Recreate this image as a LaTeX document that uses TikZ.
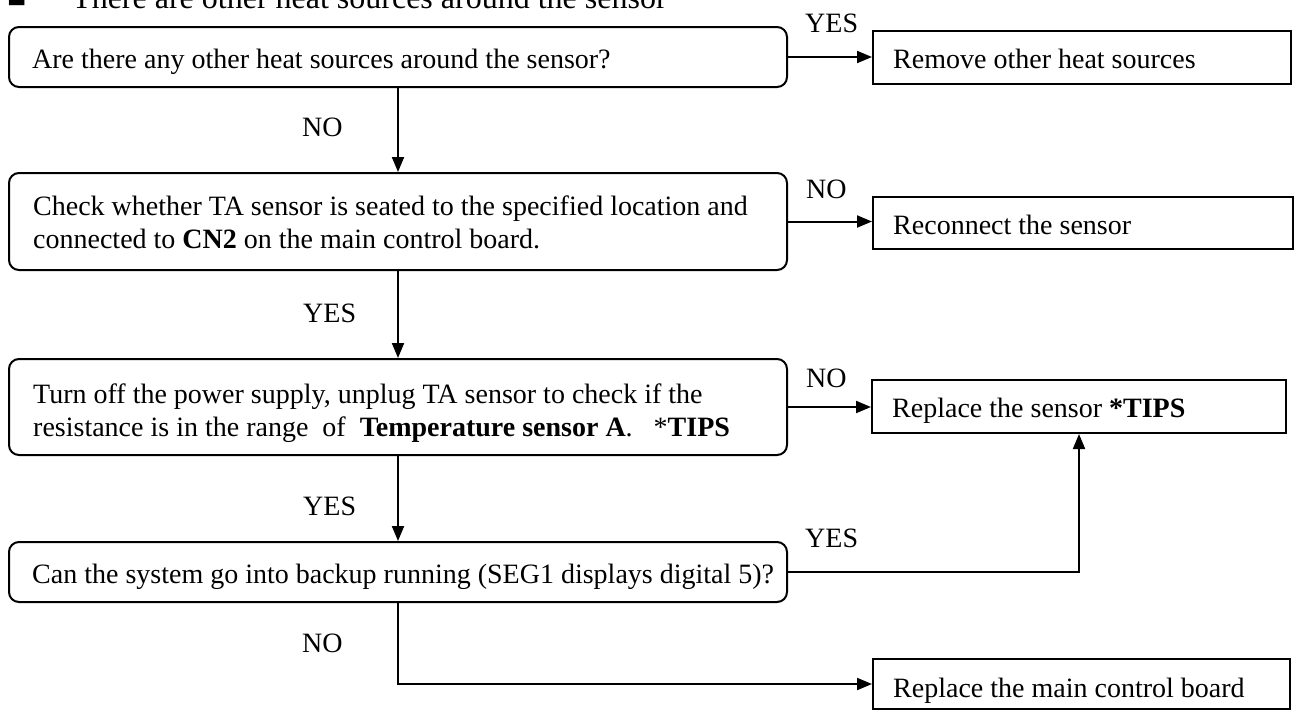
\documentclass[tikz,border=0pt]{standalone}
\usepackage{fontspec}
\setmainfont{Liberation Serif}
\usetikzlibrary{arrows.meta}
\begin{document}
\begin{tikzpicture}[x=1pt,y=-1pt,
  decision/.style={draw, line width=2pt, rounded corners=10pt, minimum width=778pt, inner sep=0pt},
  action/.style={draw, line width=2pt, minimum width=418pt, inner sep=0pt},
  txt/.style={anchor=base west, inner sep=0pt, font=\fontsize{28}{33}\selectfont, align=left},
  lbl/.style={anchor=base west, inner sep=0pt, font=\fontsize{28}{33}\selectfont},
  head/.style={anchor=base west, inner sep=0pt, font=\fontsize{32}{38}\selectfont},
  conn/.style={line width=2pt, -{Triangle[length=15pt,width=12pt]}}
]
\useasboundingbox (0,0) rectangle (1300,710);
\clip (0,0) rectangle (1300,710);

% heading (cut off at top)
\node[head] (bul) at (7,7) {■};
\node[head] (hd) at (72,8) {There are other heat sources around the sensor};

% decision boxes
\node[decision, minimum height=60pt] (q1) at (398,57) {};
\node[decision, minimum height=97pt] (q2) at (398,221.5) {};
\node[decision, minimum height=96pt] (q3) at (398,407) {};
\node[decision, minimum height=60pt] (q4) at (398,572) {};

% action boxes
\node[action, minimum height=53pt] (a1) at (1082,57.5) {};
\node[action, minimum height=52pt, minimum width=420pt] (a2) at (1083,223) {};
\node[action, minimum height=53pt, minimum width=414pt] (a3) at (1079,406.5) {};
\node[action, minimum height=50pt, minimum width=417pt] (a4) at (1081.5,684) {};

% texts (base anchor = baseline of last line)
\node[txt] (t1) at (32,68) {Are there any other heat sources around the sensor?};
\node[txt] (t2) at (33,248) {Check whether TA sensor is seated to the specified location and\\connected to \textbf{CN2} on the main control board.};
\node[txt] (t3) at (33,436) {Turn off the power supply, unplug TA sensor to check if the\\resistance is in the range~~of~~\textbf{Temperature sensor A}.~~~*\textbf{TIPS}};
\node[txt] (t4) at (32,583) {Can the system go into backup running (SEG1 displays digital 5)?};
\node[txt] (u1) at (893,68) {Remove other heat sources};
\node[txt] (u2) at (893,234) {Reconnect the sensor};
\node[txt] (u3) at (892,417) {Replace the sensor \textbf{*TIPS}};
\node[txt] (u4) at (893,697) {Replace the main control board};

% connectors
\draw[conn] (q1.south) -- (q2.north);
\draw[conn] (q2.south) -- (q3.north);
\draw[conn] (q3.south) -- (q4.north);
\draw[conn] (q1.east) -- (q1.east -| a1.west);
\draw[conn] (q2.east) -- (q2.east -| a2.west);
\draw[conn] (q3.east) -- (q3.east -| a3.west);
\draw[conn] (q4.east) -| (a3.south);
\draw[conn] (q4.south) |- (a4.west);

% labels
\node[lbl] (l1) at (302,136) {NO};
\node[lbl] (l2) at (303,322) {YES};
\node[lbl] (l3) at (303,515) {YES};
\node[lbl] (l4) at (302,652) {NO};
\node[lbl] (l5) at (805,32) {YES};
\node[lbl] (l6) at (806,198) {NO};
\node[lbl] (l7) at (806,387) {NO};
\node[lbl] (l8) at (805,547) {YES};
\end{tikzpicture}
\end{document}
